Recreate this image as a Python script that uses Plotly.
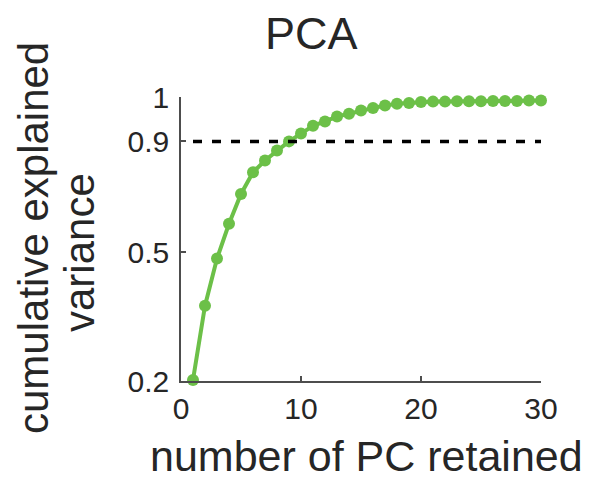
import plotly.graph_objects as go

# Data (y values in axis units of a linear 0.2-1 axis)
n_pc = list(range(1, 31))
cum_var = [0.203, 0.412, 0.545, 0.643, 0.727, 0.788, 0.821, 0.849, 0.875, 0.897,
           0.919, 0.931, 0.945, 0.953, 0.962, 0.969, 0.976, 0.981, 0.983, 0.986,
           0.987, 0.987, 0.988, 0.988, 0.988, 0.989, 0.989, 0.989, 0.990, 0.990]
threshold_x = [1, 30]
threshold_y = [0.875, 0.875]
y_tickvals = [0.2, 0.562, 0.875, 1.0]
y_ticktext = ["0.2", "0.5", "0.9", "1"]
x_tickvals = [0, 10, 20, 30]
x_ticktext = ["0", "10", "20", "30"]

FONT = "Liberation Sans, Arial, Helvetica, sans-serif"
GREEN = "rgb(108,192,72)"
AXIS = "rgb(77,77,77)"
TXT = "rgb(38,38,38)"

fig = go.Figure()
fig.add_trace(go.Scatter(
    x=n_pc, y=cum_var, mode="lines+markers",
    line=dict(color=GREEN, width=4),
    marker=dict(color=GREEN, size=12),
    cliponaxis=False, showlegend=False, hoverinfo="skip"))
fig.add_trace(go.Scatter(
    x=threshold_x, y=threshold_y, mode="lines",
    line=dict(color="black", width=3.5, dash="9px,10px"),
    cliponaxis=False, showlegend=False, hoverinfo="skip"))

# the page body has an 8px margin, so the figure is drawn 8px smaller
OFF = 8
W, H = 592 - OFF, 481 - OFF
L, T = 181 - OFF, 97 - OFF
R = W - (541 - OFF)
B = H - (381 - OFF)
ph = H - T - B
pw = W - L - R

def px_x(px):
    return (px - OFF - L) / pw

def px_y(py):
    return (H - B - (py - OFF)) / ph

fig.update_layout(
    width=W, height=H,
    margin=dict(l=L, r=R, t=T, b=B, pad=0),
    paper_bgcolor="white", plot_bgcolor="white",
    font=dict(family=FONT, color=TXT),
    xaxis=dict(range=[0, 30], tickvals=x_tickvals, ticktext=x_ticktext,
               showgrid=False, zeroline=False, showline=True,
               linecolor=AXIS, linewidth=1.5, ticks="inside", ticklen=5,
               tickwidth=1.5, tickcolor=AXIS,
               tickfont=dict(size=30, family=FONT, color=TXT)),
    yaxis=dict(range=[0.2, 1.0], tickvals=y_tickvals, ticktext=y_ticktext,
               showgrid=False, zeroline=False, showline=True,
               linecolor=AXIS, linewidth=1.5, ticks="inside", ticklen=5,
               tickwidth=1.5, tickcolor=AXIS, ticklabelstandoff=4,
               tickfont=dict(size=30, family=FONT, color=TXT)),
    annotations=[
        dict(text="PCA", xref="paper", yref="paper", x=px_x(311), y=px_y(34),
             xanchor="center", yanchor="middle", showarrow=False,
             font=dict(size=45, family=FONT, color=TXT)),
        dict(text="number of PC retained", xref="paper", yref="paper",
             x=px_x(366), y=px_y(456), xanchor="center", yanchor="middle",
             showarrow=False, font=dict(size=43, family=FONT, color=TXT)),
        dict(text="cumulative explained", xref="paper", yref="paper",
             x=px_x(33), y=px_y(238), xanchor="center", yanchor="middle",
             textangle=-90, showarrow=False,
             font=dict(size=42, family=FONT, color=TXT)),
        dict(text="variance", xref="paper", yref="paper",
             x=px_x(80), y=px_y(253), xanchor="center", yanchor="middle",
             textangle=-90, showarrow=False,
             font=dict(size=42, family=FONT, color=TXT)),
    ],
)

fig.write_html("out.html")
